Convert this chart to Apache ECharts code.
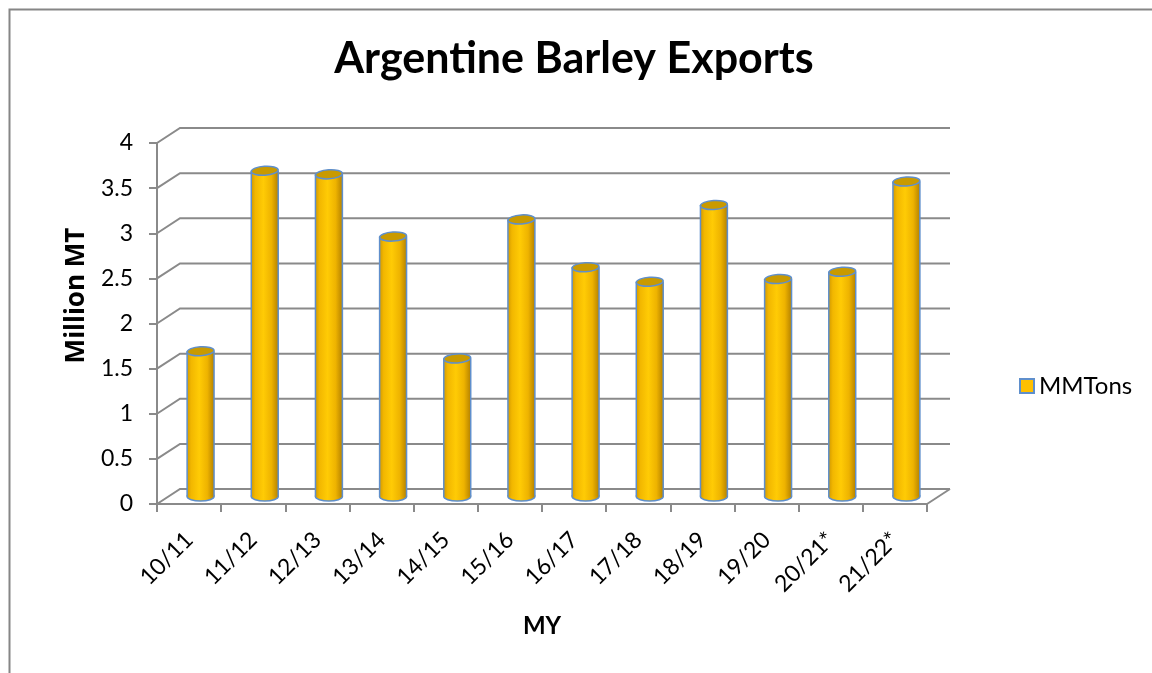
<!DOCTYPE html>
<html>
<head>
<meta charset="utf-8">
<script src="https://cdn.jsdelivr.net/npm/echarts@6/dist/echarts.min.js"></script>
<style>
html,body{margin:0;padding:0;background:#fff;}
#chart{width:1152px;height:673px;}
</style>
</head>
<body>
<div id="chart"></div>
<script>
const categories = ['10/11','11/12','12/13','13/14','14/15','15/16','16/17','17/18','18/19','19/20','20/21*','21/22*'];
const exports = [1.61, 3.61, 3.57, 2.88, 1.53, 3.07, 2.54, 2.38, 3.23, 2.41, 2.49, 3.49];
const yTicks = [0, 0.5, 1, 1.5, 2, 2.5, 3, 3.5, 4];
const seriesName = 'MMTons';

const FONT = 'Lato';
const DX = 23, DY = -15;
const GRID_COLOR = '#8a8a8a';
const OUTLINE = '#5f8fcc';

const chart = echarts.init(document.getElementById('chart'), null, {renderer: 'canvas'});

function wallItem(params, api) {
  const cs = params.coordSys;
  const v = api.value(1);
  const y = api.coord([0, v])[1];
  const x0 = cs.x, x1 = cs.x + cs.width;
  const children = [{
    type: 'polyline',
    shape: {points: [[x0, y], [x0 + DX, y + DY], [x1 + DX, y + DY]]},
    style: {stroke: GRID_COLOR, lineWidth: 2, fill: null}
  }];
  if (v === 0) {
    children.push({
      type: 'line',
      shape: {x1: x1, y1: y, x2: x1 + DX, y2: y + DY},
      style: {stroke: GRID_COLOR, lineWidth: 2}
    });
  }
  return {type: 'group', children: children};
}

function cylItem(params, api) {
  const i = api.value(0);
  const v = api.value(1);
  const top = api.coord([i, v]);
  const base = api.coord([i, 0]);
  const w = api.size([1, 0])[0] * 0.42;
  const cx = top[0] + DX / 2;
  const yt = top[1] + DY / 2;
  const yb = base[1] + DY / 2;
  const rx = w / 2, ry = 4.5;
  const grad = new echarts.graphic.LinearGradient(0, 0, 1, 0, [
    {offset: 0, color: '#D39A00'},
    {offset: 0.15, color: '#F2B700'},
    {offset: 0.45, color: '#FFCB05'},
    {offset: 0.75, color: '#EEB300'},
    {offset: 1, color: '#B58200'}
  ]);
  return {
    type: 'group',
    children: [
      {type: 'ellipse', shape: {cx: cx, cy: yb, rx: rx, ry: ry},
        style: {fill: grad, stroke: OUTLINE, lineWidth: 1.5}},
      {type: 'rect', shape: {x: cx - rx, y: yt, width: w, height: yb - yt},
        style: {fill: grad}},
      {type: 'line', shape: {x1: cx - rx, y1: yt, x2: cx - rx, y2: yb},
        style: {stroke: OUTLINE, lineWidth: 1.5}},
      {type: 'line', shape: {x1: cx + rx, y1: yt, x2: cx + rx, y2: yb},
        style: {stroke: OUTLINE, lineWidth: 1.5}},
      {type: 'ellipse', shape: {cx: cx, cy: yt, rx: rx, ry: ry},
        rotation: 0.06, originX: cx, originY: yt,
        style: {fill: '#C99A00', stroke: OUTLINE, lineWidth: 1.5}}
    ]
  };
}

const option = {
  backgroundColor: '#fff',
  animation: false,
  title: {
    text: 'Argentine Barley Exports',
    left: 569, top: 33, textAlign: 'center',
    textStyle: {fontFamily: FONT, fontWeight: 'bold', fontSize: 43, color: '#000'}
  },
  legend: {
    left: 1014, top: 369,
    itemWidth: 14, itemHeight: 14, itemGap: 8,
    data: [{name: seriesName, icon: 'rect'}],
    textStyle: {fontFamily: FONT, fontSize: 24, color: '#000'}
  },
  grid: {left: 157, top: 143, width: 770, height: 361, containLabel: false},
  xAxis: {
    type: 'category',
    data: categories,
    name: 'MY',
    nameLocation: 'middle',
    nameGap: 110,
    nameTextStyle: {fontFamily: FONT, fontWeight: 'bold', fontSize: 24, color: '#000'},
    axisLine: {show: true, lineStyle: {color: GRID_COLOR, width: 2}},
    axisTick: {show: true, length: 8, lineStyle: {color: GRID_COLOR, width: 2}},
    axisLabel: {rotate: 45, fontFamily: FONT, fontSize: 23, color: '#000', margin: 32},
    splitLine: {show: false}
  },
  yAxis: {
    type: 'value',
    min: 0, max: 4, interval: 0.5,
    name: 'Million MT',
    nameLocation: 'middle',
    nameGap: 64,
    nameRotate: 90,
    nameTextStyle: {fontFamily: 'Open Sans', fontWeight: 'bold', fontSize: 26, color: '#000', padding: [0, 0, 0, 56]},
    axisLine: {show: true, lineStyle: {color: GRID_COLOR, width: 2}},
    axisTick: {show: true, length: 8, lineStyle: {color: GRID_COLOR, width: 2}},
    axisLabel: {fontFamily: FONT, fontSize: 23, color: '#000', margin: 24},
    splitLine: {show: false}
  },
  graphic: [{
    type: 'rect', left: 7, top: 7, z: -1,
    shape: {width: 1200, height: 720},
    style: {fill: null, stroke: '#868686', lineWidth: 2}
  }],
  series: [
    {
      type: 'custom', name: 'wall', silent: true, clip: false, z: 1,
      renderItem: wallItem,
      data: yTicks.map(v => [0, v]),
      legendHoverLink: false
    },
    {
      type: 'custom', name: seriesName, clip: false, z: 2,
      renderItem: cylItem,
      itemStyle: {color: '#FFC000', borderColor: OUTLINE, borderWidth: 1.5},
      data: exports.map((v, i) => [i, v])
    }
  ]
};
chart.setOption(option);
</script>
</body>
</html>
